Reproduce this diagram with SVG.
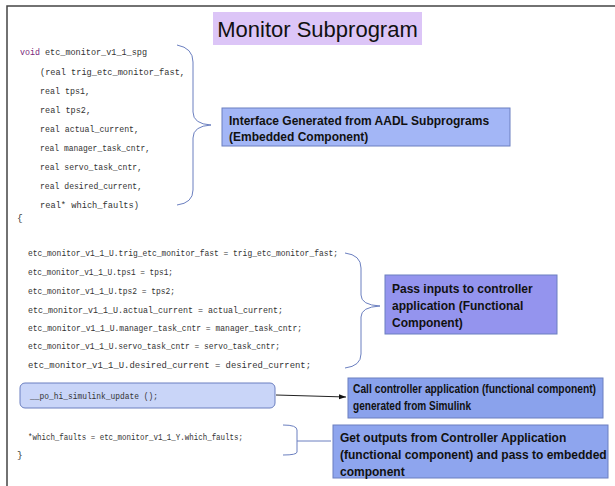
<svg xmlns="http://www.w3.org/2000/svg" width="615" height="486" viewBox="0 0 615 486">
<defs>
<style>
.code{font-family:"Liberation Mono","DejaVu Sans Mono",monospace;font-size:9.5px;fill:#333}
.kw{fill:#7a1f7a}
.lbl{font-family:"Liberation Sans",Arial,sans-serif;font-weight:bold;font-size:12px;fill:#111}
.br{fill:none;stroke:#6b7fc0;stroke-width:1}
.box{stroke:#6b7fc0;stroke-width:1}
</style>
<marker id="ah" markerWidth="8" markerHeight="8" refX="7" refY="4" orient="auto" markerUnits="userSpaceOnUse">
<path d="M0,1.5 L7,4 L0,6.5 Z" fill="#111"/>
</marker>
</defs>
<rect width="615" height="486" fill="#fff"/>
<path d="M7,486 V6 H615" fill="none" stroke="#444" stroke-width="1.5"/>

<g id="title">
<rect x="213" y="12" width="209" height="33" fill="#dcc5f7"/>
<text x="317.5" y="37" text-anchor="middle" font-family="Liberation Sans,Arial,sans-serif" font-size="22" fill="#111">Monitor Subprogram</text>
</g>

<g id="code1" class="code">
<text x="20" y="55" class="code kw" textLength="20" lengthAdjust="spacingAndGlyphs">void</text>
<text x="45" y="55" textLength="102" lengthAdjust="spacingAndGlyphs">etc_monitor_v1_1_spg</text>
<text x="40" y="75" textLength="145" lengthAdjust="spacingAndGlyphs">(real trig_etc_monitor_fast,</text>
<text x="40" y="94" textLength="50" lengthAdjust="spacingAndGlyphs">real tps1,</text>
<text x="40" y="113" textLength="51" lengthAdjust="spacingAndGlyphs">real tps2,</text>
<text x="40" y="132" textLength="99" lengthAdjust="spacingAndGlyphs">real actual_current,</text>
<text x="40" y="151" textLength="110" lengthAdjust="spacingAndGlyphs">real manager_task_cntr,</text>
<text x="40" y="170" textLength="102" lengthAdjust="spacingAndGlyphs">real servo_task_cntr,</text>
<text x="40" y="189" textLength="102" lengthAdjust="spacingAndGlyphs">real desired_current,</text>
<text x="40" y="208" textLength="99" lengthAdjust="spacingAndGlyphs">real* which_faults)</text>
<text x="17" y="221">{</text>
</g>

<g id="code2" class="code">
<text x="28" y="256" textLength="310" lengthAdjust="spacingAndGlyphs">etc_monitor_v1_1_U.trig_etc_monitor_fast = trig_etc_monitor_fast;</text>
<text x="28" y="275" textLength="145" lengthAdjust="spacingAndGlyphs">etc_monitor_v1_1_U.tps1 = tps1;</text>
<text x="28" y="294" textLength="147" lengthAdjust="spacingAndGlyphs">etc_monitor_v1_1_U.tps2 = tps2;</text>
<text x="28" y="313" textLength="255" lengthAdjust="spacingAndGlyphs">etc_monitor_v1_1_U.actual_current = actual_current;</text>
<text x="28" y="331" textLength="274" lengthAdjust="spacingAndGlyphs">etc_monitor_v1_1_U.manager_task_cntr = manager_task_cntr;</text>
<text x="28" y="349" textLength="252" lengthAdjust="spacingAndGlyphs">etc_monitor_v1_1_U.servo_task_cntr = servo_task_cntr;</text>
<text x="28" y="368" textLength="283" lengthAdjust="spacingAndGlyphs">etc_monitor_v1_1_U.desired_current = desired_current;</text>
</g>

<g id="call">
<rect x="20" y="383" width="255" height="25" rx="5" fill="#c9d5f8" class="box"/>
<text x="30" y="399" class="code" textLength="128" lengthAdjust="spacingAndGlyphs">__po_hi_simulink_update ();</text>
</g>

<g id="code4" class="code">
<text x="28" y="440" textLength="215" lengthAdjust="spacingAndGlyphs">*which_faults = etc_monitor_v1_1_Y.which_faults;</text>
<text x="17" y="458">}</text>
</g>

<g id="box1">
<rect x="222" y="108" width="288" height="38" fill="#a3b6f6" class="box"/>
<text x="229" y="125" class="lbl" font-size="12.5">Interface Generated from AADL Subprograms</text>
<text x="229" y="141" class="lbl" font-size="12.5">(Embedded Component)</text>
</g>

<g id="box2">
<rect x="385" y="275" width="172" height="59" fill="#9494ee" class="box"/>
<text x="392" y="293" class="lbl" font-size="14">Pass inputs to controller</text>
<text x="392" y="310" class="lbl" font-size="14">application (Functional</text>
<text x="392" y="327" class="lbl" font-size="14">Component)</text>
</g>

<g id="box3">
<rect x="348" y="378" width="255" height="40" fill="#8aa2ec" class="box"/>
<text x="353" y="393" class="lbl" font-size="10.5" textLength="243" lengthAdjust="spacingAndGlyphs">Call controller application (functional component)</text>
<text x="353" y="410" class="lbl" font-size="10.5" textLength="118" lengthAdjust="spacingAndGlyphs"> generated from Simulink</text>
</g>

<g id="box4">
<rect x="333" y="425" width="275" height="53" fill="#8ea5ee" class="box"/>
<text x="340" y="442" class="lbl" font-size="12.5">Get outputs from Controller Application</text>
<text x="340" y="459" class="lbl" font-size="12.5">(functional component) and pass to embedded</text>
<text x="340" y="476" class="lbl" font-size="12.5">component</text>
</g>

<g id="connectors">
<path class="br" d="M177,45 Q193,48 193,62 V112 Q193,124 211,125 Q193,126 193,138 V190 Q193,203 177,205"/>
<path class="br" d="M345,253 Q361,255 361,268 V295 Q361,305 380,306 Q361,307 361,317 V354 Q361,366 345,368"/>
<path d="M276,395 L346,397" fill="none" stroke="#222" stroke-width="1" marker-end="url(#ah)"/>
<path class="br" d="M283,425 Q297,425 297,430 V452 Q297,455 283,455 M297,441 H331" stroke="#333"/>
</g>
</svg>
